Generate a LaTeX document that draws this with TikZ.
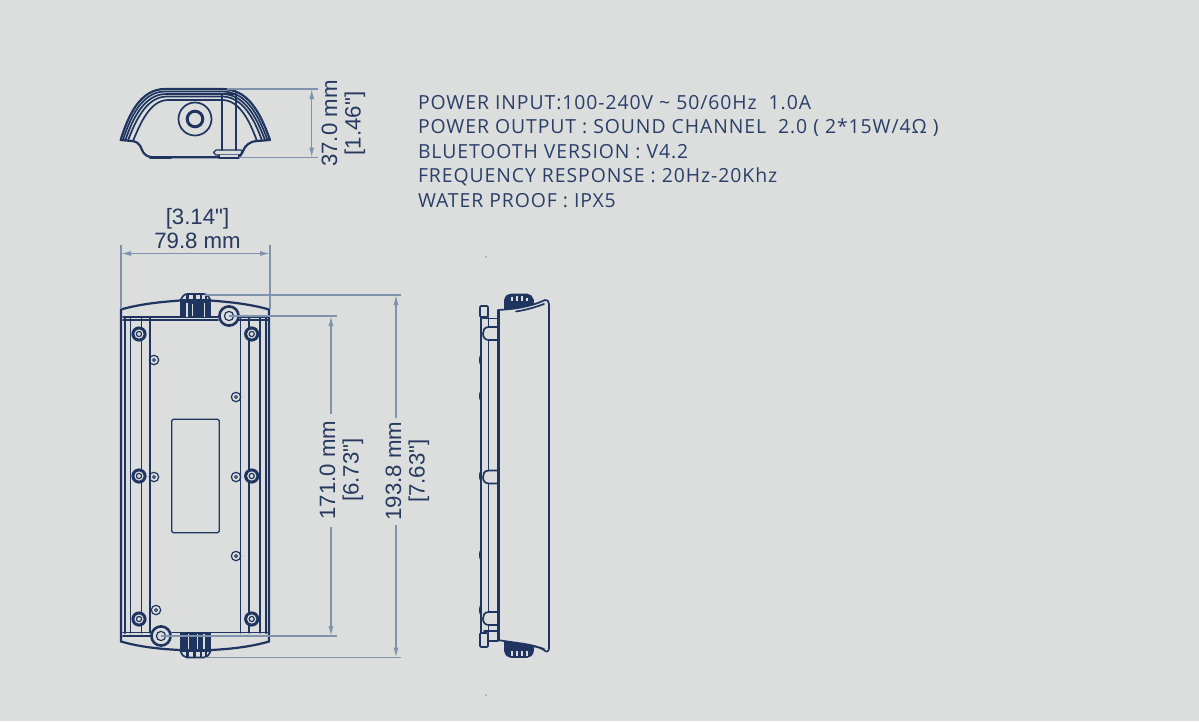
\documentclass[tikz,border=0pt]{standalone}
\usepackage{fontspec}
\newfontfamily\dimfont{Liberation Sans}
\newfontfamily\specfont{Open Sans}[LetterSpace=4.8]
\usetikzlibrary{arrows.meta}
\definecolor{bgc}{HTML}{DCDEDD}
\definecolor{ink}{HTML}{1F3560}
\definecolor{dimc}{HTML}{7F92AE}
\definecolor{dimt}{HTML}{27395F}
\definecolor{spec}{HTML}{2A3E68}
\tikzset{
  every node/.style={inner sep=0pt,outer sep=0pt},
  part/.style={draw=ink,line width=1.7pt,line cap=round,line join=round},
  thin part/.style={draw=ink,line width=1.2pt,line cap=round,line join=round},
  heavy/.style={draw=ink,line width=2.6pt,line cap=round,line join=round},
  ext/.style={draw=dimc,line width=1.2pt},
  dimline/.style={draw=dimc,line width=1.2pt,{Latex[length=10pt,width=5pt]}-{Latex[length=10pt,width=5pt]}},
  dimarrow/.style={draw=dimc,line width=1.2pt,-{Latex[length=10pt,width=5pt]}},
  dimtext/.style={text=dimt,font=\dimfont\fontsize{22.2}{23.5}\selectfont,align=center},
  spectext/.style={text=spec,font=\specfont\fontsize{19.4}{24.5}\selectfont,align=left,anchor=north west},
}
\newcommand{\bigscrew}[2]{%
  \fill[ink] (#1,#2) circle (7.6pt);
  \fill[bgc] (#1,#2) circle (4.6pt);
  \draw[thin part] (#1,#2) circle (2.6pt);
}
\newcommand{\smallscrew}[2]{%
  \draw[thin part] (#1,#2) circle (4.7pt);
  \draw[thin part,line width=.9pt] (#1,#2) circle (1.6pt);
}
\newcommand{\hook}[1]{%
  \draw[part,fill=bgc] (497,#1-6.5) -- (489,#1-6.5) .. controls (484,#1-6.5) and (483,#1-3) .. (483,#1) .. controls (483,#1+4) and (485,#1+6.5) .. (489,#1+6.5) -- (497,#1+6.5);
}
\newcommand{\bump}[1]{%
  \draw[part] (481,#1-5) .. controls (479.5,#1-2) and (479.5,#1+2) .. (481,#1+5);
}
\begin{document}
\begin{tikzpicture}[x=1pt,y=-1pt]
\useasboundingbox (0,0) rectangle (1199,721);
\fill[bgc] (0,0) rectangle (1199,721);

% ---------- top view
\begin{scope}
\draw[part,line width=2.2pt] (120.7,140) .. controls (128,116) and (140,89) .. (165,89) -- (222,89) .. controls (248,89) and (260,112) .. (270,140);
\draw[part] (123,140) .. controls (130,118) and (142,91.5) .. (165,91.5) -- (222,91.5) .. controls (246,91.5) and (258,114) .. (267.5,140);
\draw[part] (125.5,140) .. controls (132,120) and (144,94) .. (166,94) -- (222,94) .. controls (244,94) and (256,116) .. (265,140);
\draw[part] (128,140.5) .. controls (135,122) and (146,96.5) .. (167,96.5) -- (222,96.5) .. controls (242,96.5) and (254,118) .. (262,140.5);
\draw[part] (133,141) .. controls (140,124) and (150,100) .. (168,100) -- (222,100) .. controls (240,100) and (250,122) .. (257,141);
\draw[part,line width=2.2pt] (120.7,140) -- (132,141) .. controls (141,142) and (141,149) .. (143,152) .. controls (145,155) and (148,157.3) .. (154,157.3) -- (236,157.3) .. controls (240,157.3) and (242,154) .. (243,151) .. controls (245,146) and (249,141.5) .. (257,141) -- (270,140);
\draw[heavy,line width=2.4pt] (150,157.6) -- (171,157.6);
\draw[part] (195,119) circle (16.5pt);
\draw[part,line width=3pt] (195,119) circle (7.8pt);
\draw[part] (221.7,95) -- (221.7,150);
\draw[part] (236,95) -- (236,150);
\draw[part] (221.7,94) -- (236,94);
\draw[thin part] (216,150) -- (241,150) -- (243,152.5) -- (240,155) -- (216,155) -- (213.5,152.5) -- cycle;
\draw[thin part,fill=bgc] (219,155) -- (219,158) -- (239,158) -- (239,155);
\end{scope}

% ---------- front view
\begin{scope}
% outline
\draw[part,line width=2.2pt] (121,641.5) -- (121,309.5) .. controls (140,304) and (160,302) .. (180,300.5);
\draw[part,line width=2.2pt] (210,300.5) .. controls (230,302) and (250,304) .. (269,309.5) -- (269,641.5);
\draw[part,line width=2.2pt] (121,641.5) .. controls (140,647) and (160,649) .. (180,650);
\draw[part,line width=2.2pt] (211,650) .. controls (230,649) and (250,647) .. (269,641.5);
\draw[part,line width=2pt] (124.5,318) -- (124.5,633);
\draw[part,line width=2pt] (265.5,318) -- (265.5,633);
\draw[thin part] (130.5,318) -- (130.5,633);
\draw[part] (141.5,318) -- (141.5,633);
\draw[thin part] (150,318) -- (150,633);
\draw[thin part] (240.5,318) -- (240.5,633);
\draw[thin part] (249,318) -- (249,633);
\draw[thin part] (260,318) -- (260,633);
% cross bars
\draw[part] (123,317) -- (218,317);
\draw[part] (238,317) -- (268,317);
\draw[part] (123,320) -- (218,320);
\draw[part] (238,320) -- (268,320);
\draw[part] (123,632.5) -- (150,632.5);
\draw[part] (172,632.5) -- (268,632.5);
\draw[part] (123,636) -- (150,636);
\draw[part] (172,636) -- (268,636);
% top knob
\fill[ink] (180,301) -- (211,301) -- (211,318) -- (180,318) -- cycle;
\draw[part,fill=bgc] (180.5,300) .. controls (182,297) and (184,294) .. (187,294) -- (204,294) .. controls (207,294) and (209,297) .. (210.5,300) -- cycle;
\fill[ink] (186,294.5) rectangle (189,300);
\fill[ink] (193,295) rectangle (196,300);
\fill[ink] (200,295) rectangle (202,300);
\fill[ink] (205,295) rectangle (207,300);
\fill[bgc] (186,302.5) rectangle (187.5,317);
\fill[bgc] (203.5,302.5) rectangle (205,317);
\fill[bgc] (192,304) rectangle (193.2,316);
% bottom knob
\fill[ink] (180,632.5) -- (211,632.5) -- (211,650) -- (180,650) -- cycle;
\draw[part,fill=bgc] (180.5,651) .. controls (182,655) and (184,657.5) .. (187,657.5) -- (204,657.5) .. controls (207,657.5) and (209,655) .. (210.5,651) -- cycle;
\fill[ink] (186,651) rectangle (189,657);
\fill[ink] (193,651) rectangle (196,657);
\fill[ink] (200,651) rectangle (202,657);
\fill[ink] (205,651) rectangle (207,657);
\fill[bgc] (187.5,634) rectangle (189,649);
\fill[bgc] (197,634) rectangle (198.3,649);
\fill[bgc] (203,634) rectangle (204.5,649);
% large bosses
\draw[heavy,fill=bgc] (229,316) circle (9.6pt);
\draw[thin part] (229,316) circle (4.6pt);
\draw[heavy,fill=bgc] (161,636) circle (9.6pt);
\draw[thin part] (161,636) circle (4.6pt);
% screws
\bigscrew{139}{334}\bigscrew{251.7}{334}
\bigscrew{139}{476}\bigscrew{251.7}{476}
\bigscrew{139}{619}\bigscrew{251.7}{619}
\smallscrew{154}{360}\smallscrew{236}{397}
\smallscrew{154}{477}\smallscrew{236}{477}
\smallscrew{236}{556}\smallscrew{156}{610}
% label recess
\draw[part,rounded corners=1.5pt,line width=1.3pt] (171.7,419.3) rectangle (219.3,532.7);
\end{scope}

% ---------- side view
\begin{scope}
% bracket
\draw[part] (481,317) -- (481,633);
\draw[thin part] (488.7,317) -- (488.7,633);
\draw[part,rounded corners=1pt] (480,306) rectangle (488,317);
\draw[thin part] (481,317) -- (487,317);
\draw[part,rounded corners=1pt] (480,633) rectangle (488,647);
\draw[part] (483,318.5) -- (498,318.5);
\draw[part] (484,631) -- (498,631);
\draw[part] (488.7,641) -- (498,641);
\bump{360}\bump{396}\bump{476}\bump{555}\bump{610}
\hook{333.5}\hook{477}\hook{618.5}
% knobs
\draw[part,fill=ink] (505,310) -- (505,300) .. controls (506,296) and (508,294.5) .. (511,294.5) -- (527,294.5) .. controls (530,294.5) and (532,297) .. (533,300) -- (533,308) -- cycle;
\fill[bgc] (511,297) rectangle (513,301);
\fill[bgc] (516,296) rectangle (518,301);
\fill[bgc] (521,296) rectangle (523,301);
\fill[bgc] (526,298) rectangle (528,301);
\draw[part,fill=ink] (505,642) -- (505,651) .. controls (506,655) and (508,657) .. (511,657) -- (527,657) .. controls (530,657) and (532,655) .. (533,651) -- (533,643) -- cycle;
\fill[bgc] (511,651) rectangle (513,656);
\fill[bgc] (516,651) rectangle (518,656);
\fill[bgc] (521,651) rectangle (523,656);
\fill[bgc] (526,651) rectangle (528,656);
% body
\draw[part,fill=bgc] (498,310) .. controls (515,309) and (530,307) .. (545,300) .. controls (547,299.5) and (549,301) .. (549,304) -- (549,648) .. controls (549,652) and (546,652.5) .. (544,650) .. controls (535,644) and (515,643) .. (498,640) -- cycle;
\draw[heavy,line width=3.6pt,line cap=butt] (498.5,311) -- (498.5,640);
\draw[heavy,line width=2.4pt,line cap=butt] (549,318) -- (549,334);
\draw[part] (516,311.5) .. controls (526,310) and (536,307) .. (544,304);
\draw[part] (516,644) .. controls (526,645) and (536,646) .. (544,649);
\end{scope}

% ---------- dots
\fill[dimt] (486,257) circle (.7pt);
\fill[dimt] (486,695) circle (.7pt);

% ---------- dimensions
\coordinate (h1a) at (227,89);   \coordinate (h1b) at (318,89);
\coordinate (h2a) at (239,157.5);\coordinate (h2b) at (318,157.5);
\draw[ext] (h1a) -- (h1b);
\draw[ext] (h2a) -- (h2b);
\coordinate (h3a) at (311.7,89); \coordinate (h3b) at (311.7,157.5);
\draw[dimline] (h3a) -- (h3b);
\node[dimtext,rotate=90] (t37) at (343.5,123.5) {37.0 mm\\{}[1.46"]};

\coordinate (w1a) at (121,245);  \coordinate (w1b) at (121,309);
\coordinate (w2a) at (270,245);  \coordinate (w2b) at (270,309);
\draw[ext] (w1a) -- (w1b);
\draw[ext] (w2a) -- (w2b);
\coordinate (w3a) at (121,253.5);\coordinate (w3b) at (270,253.5);
\draw[dimline] (w3a) -- (w3b);
\node[dimtext] (t79) at (197.5,228.5) {[3.14"]\\79.8 mm};

\coordinate (a1a) at (229,316);  \coordinate (a1b) at (337,316);
\coordinate (a2a) at (161,636);  \coordinate (a2b) at (337,636);
\draw[ext] (a1a) -- (a1b);
\draw[ext] (a2a) -- (a2b);
\node[dimtext,rotate=90] (t171) at (341.5,470) {171.0 mm\\{}[6.73"]};
\coordinate (a3a) at (331,316);  \coordinate (a3b) at (331,636);
\coordinate (a4a) at (331,414);  \coordinate (a4b) at (331,527);
\draw[dimarrow] (a4a) -- (a3a);
\draw[dimarrow] (a4b) -- (a3b);

\coordinate (b1a) at (205,295);  \coordinate (b1b) at (401,295);
\coordinate (b2a) at (205,657.5);\coordinate (b2b) at (401,657.5);
\draw[ext] (b1a) -- (b1b);
\draw[ext] (b2a) -- (b2b);
\node[dimtext,rotate=90] (t193) at (407.5,471) {193.8 mm\\{}[7.63"]};
\coordinate (b3a) at (396,295);  \coordinate (b3b) at (396,657.5);
\coordinate (b4a) at (396,418);  \coordinate (b4b) at (396,525);
\draw[dimarrow] (b4a) -- (b3a);
\draw[dimarrow] (b4b) -- (b3b);

% ---------- specification
\node[spectext] (specs) at (418,95) {POWER INPUT:100-240V \char`\~{} 50/60Hz\ \ 1.0A\\
POWER OUTPUT : SOUND CHANNEL\ \ 2.0 ( 2*15W/4Ω )\\
BLUETOOTH VERSION : V4.2\\
FREQUENCY RESPONSE : 20Hz-20Khz\\
WATER PROOF : IPX5};
\end{tikzpicture}
\end{document}
